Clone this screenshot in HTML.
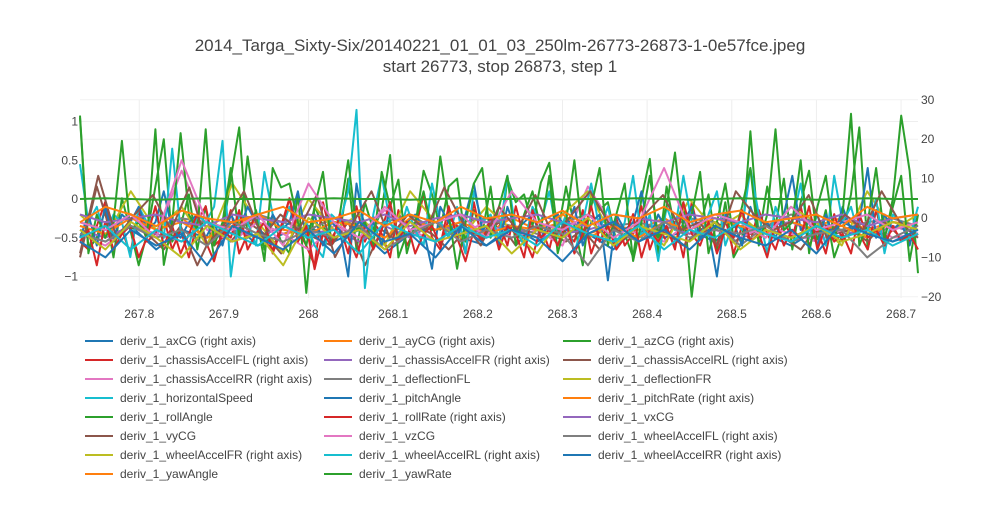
<!DOCTYPE html>
<html><head><meta charset="utf-8">
<style>
body{margin:0;background:#fff;font-family:"Liberation Sans",sans-serif;}
svg text{font-family:"Liberation Sans",sans-serif;}
</style></head>
<body>
<svg id="chart" width="1000" height="500" xmlns="http://www.w3.org/2000/svg">
<rect width="1000" height="500" fill="#fff"/>
<text x="500" y="51" text-anchor="middle" font-size="17" fill="#444">2014_Targa_Sixty-Six/20140221_01_01_03_250lm-26773-26873-1-0e57fce.jpeg</text>
<text x="500" y="72" text-anchor="middle" font-size="17" fill="#444">start 26773, stop 26873, step 1</text>
<g id="grid"></g><g id="series"></g><g id="axes"></g><g id="legend"></g>
</svg>
<script>
const xTicks=[267.8,267.9,268,268.1,268.2,268.3,268.4,268.5,268.6,268.7];
const yLeftTicks=[1,0.5,0,-0.5,-1];
const yRightTicks=[30,20,10,0,-10,-20];
const seriesNames=["deriv_1_axCG (right axis)","deriv_1_ayCG (right axis)","deriv_1_azCG (right axis)","deriv_1_chassisAccelFL (right axis)","deriv_1_chassisAccelFR (right axis)","deriv_1_chassisAccelRL (right axis)","deriv_1_chassisAccelRR (right axis)","deriv_1_deflectionFL","deriv_1_deflectionFR","deriv_1_horizontalSpeed","deriv_1_pitchAngle","deriv_1_pitchRate (right axis)","deriv_1_rollAngle","deriv_1_rollRate (right axis)","deriv_1_vxCG","deriv_1_vyCG","deriv_1_vzCG","deriv_1_wheelAccelFL (right axis)","deriv_1_wheelAccelFR (right axis)","deriv_1_wheelAccelRL (right axis)","deriv_1_wheelAccelRR (right axis)","deriv_1_yawAngle","deriv_1_yawRate"];
const seriesAxis=["R","R","R","R","R","R","R","L","L","L","L","R","L","R","L","L","L","R","R","R","R","L","L"];
const colors=["#1f77b4","#ff7f0e","#2ca02c","#d62728","#9467bd","#8c564b","#e377c2","#7f7f7f","#bcbd22","#17becf"];
// values
const s0=[-4,-6,-2,-8,-3,-5,-1,-7,-4,-2,-6,-3,-9,-4,-1,-5,-7,-2,-6,-3,-4,-8,-2,-5,-3,-6,-1,-4,-7,-3,-5,-2,-6,-4];
const s1=[-2,-4,1,-3,0,-5,-2,-1,-4,-3,0,-2,-5,-1,-3,-2,-4,0,-3,-1,-5,-2,-3,0,-4,-2,-1,-3,-5,-2,0,-3,-1,-2];
const s2=[26,-8,-5,2,-10,5,-3,-12,-4,8,20,-6,-2,6,-8,3,-10,-4,10,23,-5,2,-8,0,-6,-9,6,-19,3,-2,-6,-4,10,-8,4,-3,2,16,-10,-4,-2,12,6,-3,8,10,-6,2,-4,8,-8,10,4,6,-2,9,14,-4,8,-2,-12,6,2,4,-6,-4,-10,5,15,-9,8,-3,4,-20,-2,6,-8,4,-10,-6,22,-5,8,-2,10,-8,4,12,-6,2,-10,-4,6,23,-8,2,-6,5,26,12,-14];
const s3=[-6,-8,-2,4,-5,-3,-9,2,-6,-4,0,-8,-3,-10,-1,3,-7,-5,2,-9,-4,1,-6,-8,-2,5,-3,-7,-12,4,-5,-2,-9,3,-6,-1,-4,-10,2,-7,-3,6,-5,-8,0,-2,-9,4,-6,-3,-1,-7,3,-5,-10,-2,-8,1,-4,-6,2,-9,-3,-5,0,-7,-4,3,-8,-2,-6,-1,-10,4,-5,-3,-7,0,-9,-2,-6,2,-4,-8,-1,-5,3,-7,-3,-9,1,-6,-2,-4,-8,2,-5,-3,-1,-6,-4];
const s4=[-3,-5,-2,-4,-6,-1,-3,-5,-2,-4,-3,-6,-2,-5,-1,-4,-3,-2,-5,-4,-3,-1,-6,-2,-4,-3,-5,-2,-1,-4,-3,-5,-2,-4];
const s5=[-10,8,-6,-2,-4,-8,-2,-12,-3,-6,-1,-4,-9,-2,-5,-7,-1,-12,-3,-6,-2,-4,-8,-3,-5,-1,-7,-2,-4,-6,-3,-8,-1,-5,-2,-4,-7,-3,-1,-6,-4,-2,-5,-8,-2,-4,-3,-6,-1,-5,-4];
const s6=[-4,-7,-2,-5,12,-3,-6,-1,-4,-8,-2,-5,2,-3,-6,-4,-1,-5,-3,-7,8,-2,-4,-6,-1,-3,-5,-2,-4,-6,-3,-1,-5,-4];
const s7=[-0.3,-0.4,-0.2,-0.35,-0.25,-0.3,-0.45,-0.2,-0.3,-0.4,-0.25,-0.35,-0.3,-0.2,-0.4,-0.3,-0.25,-0.35,-0.45,-0.3,-0.2,-0.35,-0.3,-0.4,-0.25,-0.3,-0.6,-0.35,-0.2,-0.3,-0.4,-0.3,-0.25,-0.35];
const s8=[-0.2,-0.5,0.1,-0.4,-0.1,-0.6,0.2,-0.3,-0.7,0,-0.4,-0.2,-0.6,0.1,-0.3,-0.5,-0.1,-0.4,-0.7,-0.2,0.1,-0.5,-0.3,-0.6,0,-0.4,-0.2,-0.5,-0.1,-0.3,-0.6,0.1,-0.4,-0.2];
const s9=[0.45,-0.3,-0.1,-0.5,-0.2,-0.3,-0.75,-0.1,-0.3,-0.2,-0.5,0.65,-0.4,-0.6,-0.2,-0.3,-0.1,0.75,-1.0,-0.2,-0.3,-0.6,0.35,-0.2,-0.4,-0.1,-0.5,-0.3,-0.6,-0.75,-0.2,-0.3,0.1,1.15,-1.15,-0.2,0.3,-0.3,-0.5,-0.1,-0.4,-0.6,0.2,-0.3,-0.5,-0.1,-0.7,0.1,-0.3,-0.2,-0.5,0.3,-0.4,-0.6,-0.1,-0.3,0.1,-0.5,-0.2,-0.7,-0.3,0.2,-0.4,-0.1,-0.6,-0.3,0.3,-0.5,-0.2,-0.8,-0.1,-0.4,0.3,-0.3,-0.5,-0.2,0.1,-0.6,-0.3,-0.4,0.4,-0.2,-0.7,-0.1,-0.4,-0.3,0.2,-0.5,-0.2,-0.6,0.3,-0.3,-0.1,-0.5,-0.4,0,-0.7,-0.2,-0.3,-0.5,-0.1];
const s10=[-0.5,-0.2,-0.6,-0.1,-0.5,-0.2,-0.3,-0.1,-0.4,-0.3,0.1,-0.4,-0.5,-0.3,-0.2,-0.5,-0.3,-0.6,-0.2,-0.4,-0.1,-0.3,-0.5,-0.2,-0.4,-0.3,0.1,-0.5,-0.2,-0.6,-0.3,-0.4,-1.0,0.2,-0.4,-0.3,-0.6,-0.1,-0.5,-0.3,-0.2,-0.4,-0.9,-0.1,-0.3,-0.5,-0.2,0.2,-0.4,-0.3,-0.6,-0.1,-0.4,-0.3,-0.2,-0.5,-0.3,-0.2,-0.4,-0.1,-0.6,-0.3,-0.2,-1.05,-0.2,-0.4,-0.3,0.1,-0.5,-0.2,-0.4,-0.6,-0.3,-0.1,-0.5,-0.4,-1.0,-0.2,-0.3,-0.6,-0.1,-0.4,-0.3,-0.5,-0.2,0.3,-0.4,-0.3,-0.6,-0.2,-0.5,-0.1,-0.4,-0.3,0.4,-0.5,-0.2,-0.4,-0.3,-0.6,-0.2];
const s11=[-2,-4,0,-3,-1,-5,-2,1,-3,-4,-1,-2,-5,0,-3,-1,-4,-2,-3,1,-4,-2,-5,-1,-3,0,-2,-4,-1,-3,-2,-5,-1,-3];
const s12=[1.05,-0.7,-0.2,-0.5,-0.3,0.75,-0.4,-0.3,-0.5,0.9,-0.85,-0.3,0.85,-0.2,-0.4,0.9,-0.6,-0.3,0.4,-0.5,0.55,-0.2,-0.8,0.4,0.15,0.2,-0.3,-0.6,-0.1,0.35,-0.6,-0.2,0.5,-0.4,-0.3,-0.6,0.35,-0.1,0.25,-0.7,-0.3,0.1,-0.4,0.55,-0.2,-0.9,-0.3,0.2,0.4,-0.5,-0.1,0.3,-0.6,-0.2,0.1,-0.4,0.3,-0.7,-0.3,0.5,-0.5,-0.1,0.4,-0.6,-0.2,0.2,-0.8,-0.3,0.3,-0.5,-0.1,0.6,-0.4,-0.2,0.35,-0.7,-0.3,0.2,-0.5,-0.1,0.4,-0.6,-0.2,0.9,-0.4,-0.3,0.5,-0.7,-0.1,0.3,-0.5,-0.2,1.1,-0.6,-0.3,0.4,-0.5,-0.1,0.3,-0.8,-0.2];
const s13=[-6,-3,-12,-1,-8,-4,-2,-10,-5,3,-7,-2,-9,-4,1,-6,-11,-3,-5,2,-8,-4,-1,-9,-3,5,-6,-2,-13,-4,-7,1,-5,-10,-2,-8,-3,4,-6,-1,-9,-4,-2,-7,3,-5,-11,-3,-6,0,-8,-2,-4,-10,2,-5,-3,-7,-1,-9,-4,3,-6,-2,-8,-5,1,-10,-3,-6,-2,-8,4,-4,-7,-1,-9,-3,-5,2,-6,-4,-10,-1,-7,-3,-5,3,-8,-2,-6,-4,-9,1,-5,-3,-7,-2,-6,-4,-8];
const s14=[-0.2,-0.3,-0.25,-0.2,-0.3,-0.35,-0.2,-0.25,-0.3,-0.2,-0.25,-0.3,-0.2,-0.35,-0.25,-0.2,-0.3,-0.25,-0.2,-0.3,-0.35,-0.2,-0.25,-0.3,-0.2,-0.25,-0.3,-0.2,-0.25,-0.3,-0.2,-0.35,-0.25,-0.2];
const s15=[-0.7,0.3,-0.5,-0.2,0.05,-0.4,0.15,-0.6,-0.3,0.1,-0.5,-0.2,-0.4,0.05,-0.75,-0.3,0.1,-0.5,-0.2,-0.4,0.15,-0.3,-0.6,-0.1,-0.4,0.05,-0.5,-0.2,0.1,-0.3,-0.5,-0.2,0.05,-0.4,-0.3,-0.6,0.1,-0.2,-0.4,-0.3,0.05,-0.5,-0.2,-0.4,0.1,-0.3,-0.5];
const s16=[-0.3,-0.4,-0.2,-0.5,0.5,-0.3,-0.4,-0.2,-0.6,0.2,-0.3,-0.5,-0.1,-0.4,-0.3,-0.2,-0.5,0.1,-0.3,-0.4,-0.2,-0.5,-0.3,0.4,-0.4,-0.2,-0.3,-0.5,-0.1,-0.4,-0.3,-0.2,-0.4,-0.3];
const s17=[-4,-6,-2,-5,-3,-7,-1,-4,-6,-3,-5,-2,-8,-4,-1,-6,-3,-5,-2,-4,-12,-3,-6,-1,-5,-3,-4,-2,-6,-4,-3,-10,-5,-2];
const s18=[-3,-8,-1,-5,-10,-2,-6,-4,-12,0,-5,-3,-8,-1,-6,-4,-2,-9,-3,-5,0,-7,-2,-4,-6,-1,-8,-3,-5,-2,-6,-4,-1,-3];
const s19=[-5,-2,-8,-3,-6,-1,-4,-7,-2,-5,-3,-9,-1,-4,-6,-2,-5,-3,-7,-1,-4,-6,-2,-8,-3,-5,-1,-4,-6,-2,-5,-3,-7,-4];
const s20=[-6,-10,-3,-7,-4,-12,-2,-5,-8,-3,-9,-1,-6,-4,-10,-2,-7,-3,-5,-11,-4,-1,-6,-3,-8,-2,-5,-7,-3,-9,-1,-4,-6,-3];
const s21=[-0.3,-0.1,-0.2,-0.35,-0.15,-0.25,-0.3,-0.2,-0.1,-0.3,-0.25,-0.15,-0.35,-0.2,-0.3,-0.1,-0.25,-0.2,-0.3,-0.15,-0.35,-0.2,-0.25,-0.1,-0.3,-0.2,-0.15,-0.3,-0.25,-0.2,-0.35,-0.1,-0.25,-0.2];
const s22=[0.0,0.01,0.0,-0.01,0.0,0.01,0.0,0.0,-0.01,0.0,0.01,0.0,0.0,-0.01,0.0,0.01,0.0,0.0,0.01,-0.01,0.0,0.0,0.01,0.0,-0.01,0.0,0.01,0.0,0.0,-0.01,0.0,0.01,0.0,0.0];
const seriesValues=[s0,s1,s2,s3,s4,s5,s6,s7,s8,s9,s10,s11,s12,s13,s14,s15,s16,s17,s18,s19,s20,s21,s22];
const xStart=267.73, xEnd=268.72;

const NS="http://www.w3.org/2000/svg";
const PL=80,PR=918,PT=100,PB=298;
const xScale=v=>PL+(v-xStart)/(xEnd-xStart)*(PR-PL);
const yL=v=>199-v*77.5;
const yR=v=>218-v*3.94;
function mk(tag,attrs,parent){const e=document.createElementNS(NS,tag);for(const k in attrs)e.setAttribute(k,attrs[k]);parent.appendChild(e);return e;}
const grid=document.getElementById('grid'),axes=document.getElementById('axes'),ser=document.getElementById('series'),leg=document.getElementById('legend');
xTicks.forEach(t=>{const x=xScale(t);
 const l=mk('line',{x1:x,x2:x,y1:PT,y2:PB,stroke:'#eee'},grid);
 
 
 const tx=mk('text',{x:x,y:318,'text-anchor':'middle','font-size':12,fill:'#444'},axes);tx.textContent=String(t);
 
 
});
yRightTicks.forEach(t=>{const y=yR(t);if(y<PT-1||y>PB+1)return;
 const l=mk('line',{x1:PL,x2:PR,y1:y,y2:y,stroke:'#f2f2f2'},grid);
 
 
});
yRightTicks.forEach(t=>{const y=yR(t);
 const tx=mk('text',{x:921,y:y+4,'text-anchor':'start','font-size':12,fill:'#444'},axes);tx.textContent=t<0?'\u2212'+(-t):String(t);
 
 
});
yLeftTicks.forEach(t=>{const y=yL(t);
 const l=mk('line',{x1:PL,x2:PR,y1:y,y2:y,stroke:t===0?'#ddd':'#eee'},grid);
 
 
 const tx=mk('text',{x:78,y:y+4,'text-anchor':'end','font-size':12,fill:'#444'},axes);tx.textContent=t<0?'\u2212'+(-t):String(t);
 
 
});
seriesValues.forEach((vals,i)=>{
 const ys=seriesAxis[i]==='R'?yR:yL;
 const n=vals.length;
 const pts=vals.map((v,j)=>xScale(xStart+(xEnd-xStart)*j/(n-1)).toFixed(1)+','+Math.max(PT,Math.min(PB,ys(v))).toFixed(1)).join(' ');
 const p=mk('polyline',{points:pts,fill:'none',stroke:colors[i%10],'stroke-width':2,'stroke-linejoin':'round'},ser);
 
 
});
seriesNames.forEach((nm,i)=>{
 const col=i%3,row=Math.floor(i/3);
 const x=85+col*239,y=341+row*19;
 const g=mk('g',{},leg);
 
 
 mk('line',{x1:x,x2:x+28,y1:y,y2:y,stroke:colors[i%10],'stroke-width':2},g);
 const t=mk('text',{x:x+35,y:y+4,'font-size':12,fill:'#444'},g);t.textContent=nm;
});
</script>
</body></html>
